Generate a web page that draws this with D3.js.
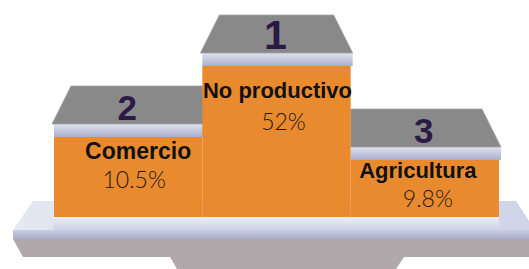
<!DOCTYPE html>
<html>
<head>
<meta charset="utf-8">
<script src="https://cdn.jsdelivr.net/npm/d3@7"></script>
<style>
  body { margin: 0; background: #fff; }
  svg { display: block; }
</style>
</head>
<body>
<script>
// podium order left to right
let categories = ['Comercio', 'No productivo', 'Agricultura'];
let shares = [10.5, 52, 9.8];
let ranks = [2, 1, 3];
let shareLabels = ['10.5%', '52%', '9.8%'];

let width = 529,
    height = 269;

let floorY = 217;

let x = d3.scaleBand()
    .domain(categories)
    .range([54, 499])
    .padding(0);

// top of each podium block by rank
let topY = d3.scaleOrdinal()
    .domain([1, 2, 3])
    .range([66, 137, 160]);

// baseline of the category name by rank
let nameY = d3.scaleOrdinal()
    .domain([1, 2, 3])
    .range([98, 159, 178]);

let rankSize = d3.scaleOrdinal()
    .domain([1, 2, 3])
    .range([41, 35, 35]);

let svg = d3.select('body')
    .append('svg')
    .attr('width', width)
    .attr('height', height);

let defs = svg.append('defs');

function grad(id, stops, vertical) {
    let g = defs.append('linearGradient').attr('id', id)
        .attr('x1', 0).attr('y1', 0)
        .attr('x2', vertical ? 0 : 1).attr('y2', vertical ? 1 : 0);
    stops.forEach(s => g.append('stop').attr('offset', s[0]).attr('stop-color', s[1]));
}
grad('lip', [[0, '#dfe2ef'], [1, '#a9aecb']], true);
grad('foot', [[0, '#eceef6'], [1, '#cdd1e5']], true);
grad('deck', [[0, '#e4e8f1'], [0.5, '#d6dbea'], [1, '#cfd4e8']], false);
grad('front', [[0, '#c9cde2'], [1, '#a8adca']], true);

let line = d3.line();

// shadow under the base
svg.append('path')
    .attr('d', line([[13, 239], [529, 239], [529, 257], [404, 257], [396, 269],
        [177, 269], [170, 257], [23, 257]]) + 'Z')
    .attr('fill', '#b0a8ab');

// base deck
svg.append('path')
    .attr('d', line([[33, 201], [516, 201], [529, 221], [529, 230], [13, 230]]) + 'Z')
    .attr('fill', 'url(#deck)');

// base front edge
svg.append('rect')
    .attr('x', 13).attr('y', 230)
    .attr('width', width - 13).attr('height', 9)
    .attr('fill', 'url(#front)');

let data = categories.map((c, i) => ({
    name: c, share: shares[i], rank: ranks[i], label: shareLabels[i]
}));
let winnerX = x(data.find(d => d.rank === 1).name);

// draw lower steps first so the winner sits on top
let pod = svg.selectAll('g.podium')
    .data(data.slice().sort((a, b) => b.rank - a.rank))
    .join('g')
    .attr('class', 'podium');

// light foot strip
pod.append('rect')
    .attr('x', d => x(d.name) - 1)
    .attr('y', floorY)
    .attr('width', x.bandwidth() + 1)
    .attr('height', 13)
    .attr('fill', 'url(#foot)');

// orange block
pod.append('rect')
    .attr('x', d => x(d.name))
    .attr('y', d => topY(d.rank))
    .attr('width', x.bandwidth())
    .attr('height', d => floorY - topY(d.rank))
    .attr('fill', '#ea8a2e');

// lip under the grey top
pod.append('rect')
    .attr('x', d => x(d.name))
    .attr('y', d => topY(d.rank) - 13)
    .attr('width', x.bandwidth() + 2)
    .attr('height', 13)
    .attr('fill', 'url(#lip)');

// grey top face; the side tucked behind the winner stays square
pod.append('path')
    .attr('d', d => {
        let x0 = x(d.name), x1 = x0 + x.bandwidth() + 2;
        let yb = topY(d.rank) - 13, yt = yb - 38;
        let inL = 19, inR = 19;
        if (x0 < winnerX) inR = 0;
        if (x0 > winnerX) inL = 0;
        let bl = inL ? x0 - 2 : x0;
        return line([[bl, yb], [bl + inL, yt], [x1 - inR, yt], [x1, yb]]) + 'Z';
    })
    .attr('fill', '#898989')
    .attr('stroke', '#a5a5a5')
    .attr('stroke-width', 0.8);

// rank number
pod.append('text')
    .attr('x', d => x(d.name) + x.bandwidth() / 2 - 1)
    .attr('y', d => topY(d.rank) - 17)
    .attr('text-anchor', 'middle')
    .attr('font-family', '"Liberation Sans", Arial, sans-serif')
    .attr('font-weight', 700)
    .attr('font-size', d => rankSize(d.rank))
    .attr('fill', '#2b1a45')
    .text(d => d.rank);

// category name
pod.append('text')
    .attr('x', d => x(d.name) + x.bandwidth() / 2 + (d.rank === 2 ? 10 : d.rank === 3 ? -7 : 1))
    .attr('y', d => nameY(d.rank))
    .attr('text-anchor', 'middle')
    .attr('font-family', '"Liberation Sans", Arial, sans-serif')
    .attr('font-weight', 700)
    .attr('font-size', d => d.rank === 2 ? 23 : 22)
    .attr('fill', '#111')
    .text(d => d.name);

// share label
pod.append('text')
    .attr('x', d => x(d.name) + x.bandwidth() / 2 + (d.rank === 2 ? 6 : d.rank === 3 ? 3 : 7))
    .attr('y', d => nameY(d.rank) + (d.rank === 1 ? 32 : 29))
    .attr('text-anchor', 'middle')
    .attr('font-family', 'Lato, sans-serif')
    .attr('font-weight', 300)
    .attr('font-size', 23)
    .attr('fill', '#1a1a1a')
    .text(d => d.label);
</script>
</body>
</html>
